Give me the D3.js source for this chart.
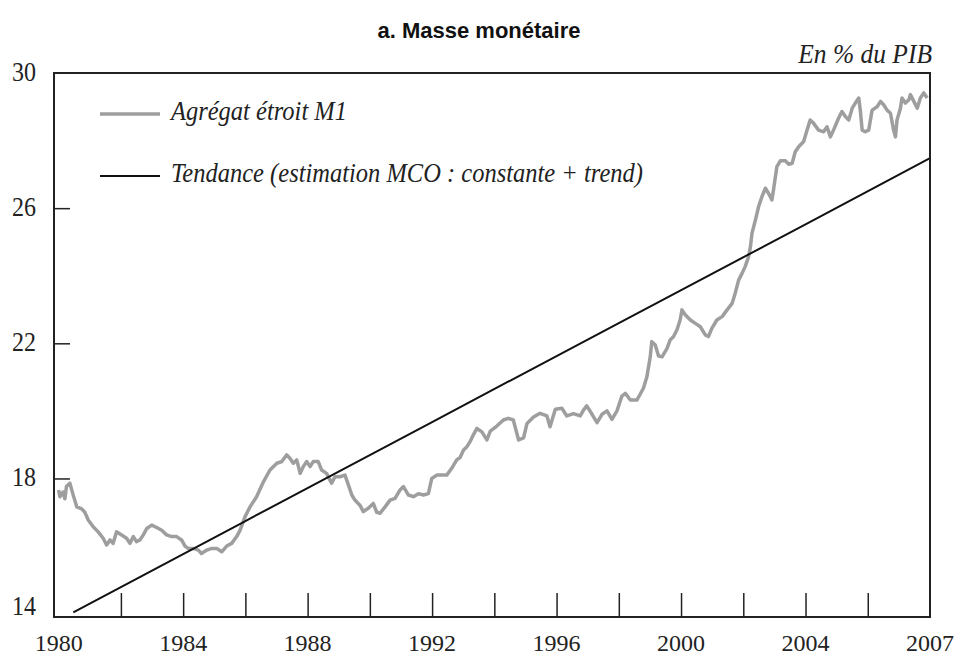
<!DOCTYPE html>
<html>
<head>
<meta charset="utf-8">
<script src="https://cdn.jsdelivr.net/npm/d3@7"></script>
<style>
  body { margin: 0; background: #fff; }
  svg { display: block; }
</style>
</head>
<body>
<svg id="chart"></svg>
<script>
// Agrégat étroit M1, en % du PIB
const m1Dates = [
  1980.00, 1980.04, 1980.14, 1980.20, 1980.25, 1980.36, 1980.47, 1980.58, 1980.74, 1980.84,
  1980.95, 1981.11, 1981.27, 1981.43, 1981.54, 1981.65, 1981.75, 1981.86, 1982.02, 1982.18,
  1982.29, 1982.40, 1982.50, 1982.61, 1982.72, 1982.83, 1982.99, 1983.15, 1983.31, 1983.47,
  1983.63, 1983.79, 1983.95, 1984.06, 1984.16, 1984.32, 1984.49, 1984.59, 1984.76, 1984.92,
  1985.08, 1985.24, 1985.40, 1985.56, 1985.72, 1985.83, 1985.99, 1986.15, 1986.36, 1986.58,
  1986.79, 1987.01, 1987.17, 1987.33, 1987.43, 1987.54, 1987.65, 1987.76, 1987.86, 1987.97,
  1988.08, 1988.18, 1988.34, 1988.45, 1988.61, 1988.77, 1988.88, 1989.04, 1989.20, 1989.31,
  1989.42, 1989.52, 1989.68, 1989.79, 1989.95, 1990.11, 1990.22, 1990.33, 1990.49, 1990.65,
  1990.81, 1990.97, 1991.08, 1991.24, 1991.40, 1991.56, 1991.72, 1991.88, 1991.99, 1992.15,
  1992.31, 1992.47, 1992.63, 1992.79, 1992.90, 1993.01, 1993.12, 1993.22, 1993.33, 1993.44,
  1993.60, 1993.76, 1993.87, 1994.08, 1994.29, 1994.45, 1994.61, 1994.78, 1994.94, 1995.05,
  1995.26, 1995.47, 1995.69, 1995.79, 1995.96, 1996.17, 1996.33, 1996.54, 1996.76, 1996.87,
  1996.97, 1997.14, 1997.30, 1997.46, 1997.62, 1997.78, 1997.94, 1998.10, 1998.21, 1998.37,
  1998.58, 1998.69, 1998.79, 1998.90, 1999.01, 1999.06, 1999.17, 1999.28, 1999.39, 1999.55,
  1999.65, 1999.76, 1999.87, 1999.97, 2000.03, 2000.14, 2000.30, 2000.46, 2000.62, 2000.78,
  2000.88, 2000.99, 2001.15, 2001.32, 2001.48, 2001.64, 2001.74, 2001.85, 2001.96, 2002.06,
  2002.17, 2002.23, 2002.28, 2002.39, 2002.49, 2002.60, 2002.71, 2002.81, 2002.92, 2002.97,
  2003.08, 2003.19, 2003.35, 2003.46, 2003.57, 2003.67, 2003.78, 2003.94, 2004.05, 2004.15,
  2004.26, 2004.42, 2004.58, 2004.69, 2004.80, 2004.90, 2005.06, 2005.17, 2005.28, 2005.39,
  2005.50, 2005.60, 2005.71, 2005.76, 2005.82, 2005.92, 2006.03, 2006.14, 2006.30, 2006.41,
  2006.51, 2006.62, 2006.73, 2006.83, 2006.89, 2006.94, 2007.05, 2007.10, 2007.21, 2007.32,
  2007.37, 2007.48, 2007.59, 2007.69, 2007.80, 2007.91
];
const m1Values = [
  17.66, 17.46, 17.60, 17.40, 17.76, 17.86, 17.50, 17.16, 17.10, 17.00,
  16.77, 16.57, 16.42, 16.23, 16.03, 16.18, 16.08, 16.42, 16.33, 16.23,
  16.08, 16.28, 16.13, 16.18, 16.33, 16.52, 16.62, 16.55, 16.47, 16.33,
  16.28, 16.28, 16.18, 16.00, 15.93, 15.93, 15.88, 15.78, 15.88, 15.93,
  15.93, 15.83, 16.00, 16.08, 16.28, 16.47, 16.87, 17.16, 17.46, 17.90,
  18.25, 18.45, 18.50, 18.70, 18.60, 18.45, 18.55, 18.15, 18.35, 18.50,
  18.35, 18.50, 18.50, 18.25, 18.15, 17.86, 18.05, 18.05, 18.10, 17.81,
  17.51, 17.36, 17.21, 17.02, 17.12, 17.26, 17.00, 16.97, 17.16, 17.36,
  17.41, 17.66, 17.76, 17.51, 17.46, 17.55, 17.51, 17.55, 18.00, 18.10,
  18.10, 18.10, 18.30, 18.55, 18.62, 18.84, 18.94, 19.09, 19.30, 19.48,
  19.38, 19.14, 19.40, 19.55, 19.73, 19.78, 19.73, 19.14, 19.20, 19.63,
  19.82, 19.93, 19.85, 19.53, 20.05, 20.08, 19.85, 19.92, 19.85, 20.03,
  20.15, 19.90, 19.65, 19.90, 20.00, 19.75, 20.00, 20.44, 20.52, 20.32,
  20.32, 20.50, 20.67, 21.00, 21.60, 22.05, 21.95, 21.62, 21.60, 21.85,
  22.10, 22.20, 22.40, 22.69, 22.99, 22.84, 22.69, 22.59, 22.49, 22.25,
  22.20, 22.44, 22.69, 22.79, 22.99, 23.18, 23.48, 23.87, 24.07, 24.27,
  24.56, 24.86, 25.26, 25.65, 26.04, 26.34, 26.59, 26.44, 26.24, 26.54,
  27.23, 27.40, 27.40, 27.30, 27.33, 27.67, 27.82, 27.97, 28.31, 28.61,
  28.51, 28.31, 28.26, 28.41, 28.11, 28.31, 28.66, 28.86, 28.71, 28.61,
  28.96, 29.11, 29.26, 28.90, 28.31, 28.26, 28.31, 28.90, 29.00, 29.16,
  29.06, 28.90, 28.81, 28.31, 28.11, 28.61, 28.96, 29.26, 29.11, 29.21,
  29.36, 29.16, 28.96, 29.26, 29.41, 29.26
];

// Tendance (estimation MCO : constante + trend)
const trendDates = [1980.47, 1986.0, 1992.0, 1998.0, 2004.0, 2008.0];
const trendValues = [14.04, 16.74, 19.67, 22.60, 25.52, 27.48];

const xTickYears = [1982, 1984, 1986, 1988, 1990, 1992, 1994, 1996, 1998, 2000, 2002, 2004, 2006];
const xLabelYears = [1980, 1984, 1988, 1992, 1996, 2000, 2004, 2008];
const xLabelTexts = ["1980", "1984", "1988", "1992", "1996", "2000", "2004", "2007"];
const yTicks = [14, 18, 22, 26, 30];

const W = 958, H = 659;
const margin = { top: 73, right: 28, bottom: 42, left: 54 };
const innerW = W - margin.left - margin.right;
const innerH = H - margin.top - margin.bottom;

const svg = d3.select("#chart")
  .attr("width", W)
  .attr("height", H);

const x = d3.scaleLinear().domain([1979.85, 2008]).range([margin.left, margin.left + innerW]);
const y = d3.scaleLinear().domain([13.9, 30]).range([margin.top + innerH, margin.top]);

const serif = "'Liberation Serif', 'Times New Roman', serif";
const stretch = 1.1; // le texte de la figure d'origine est un peu étiré en hauteur

// titre
svg.append("text")
  .attr("x", 479)
  .attr("y", 38)
  .attr("text-anchor", "middle")
  .attr("font-family", "'Liberation Sans', Arial, sans-serif")
  .attr("font-weight", "bold")
  .attr("font-size", 22)
  .attr("fill", "#111")
  .text("a. Masse monétaire");

svg.append("text")
  .attr("transform", "translate(932,63) scale(1," + stretch + ")")
  .attr("text-anchor", "end")
  .attr("font-family", serif)
  .attr("font-style", "italic")
  .attr("font-size", 25.5)
  .attr("fill", "#222")
  .text("En % du PIB");

// séries
const line = d3.line()
  .x(d => x(d[0]))
  .y(d => y(d[1]));

svg.append("path")
  .datum(m1Dates.map((d, i) => [d, m1Values[i]]))
  .attr("d", line)
  .attr("fill", "none")
  .attr("stroke", "#9e9e9e")
  .attr("stroke-width", 3.5)
  .attr("stroke-linejoin", "round");

svg.append("path")
  .datum(trendDates.map((d, i) => [d, trendValues[i]]))
  .attr("d", line)
  .attr("fill", "none")
  .attr("stroke", "#111")
  .attr("stroke-width", 2);

// axes (ticks vers l'intérieur)
const xAxis = d3.axisBottom(x)
  .tickValues(xTickYears)
  .tickSize(-24)
  .tickFormat("");

svg.append("g")
  .attr("transform", "translate(0," + (margin.top + innerH) + ")")
  .call(xAxis)
  .call(g => g.select(".domain").remove())
  .call(g => g.selectAll(".tick line").attr("stroke", "#222").attr("stroke-width", 1.5));

const yAxis = d3.axisLeft(y)
  .tickValues([18, 22, 26])
  .tickSize(-16)
  .tickFormat("");

svg.append("g")
  .attr("transform", "translate(" + margin.left + ",0)")
  .call(yAxis)
  .call(g => g.select(".domain").remove())
  .call(g => g.selectAll(".tick line").attr("stroke", "#222").attr("stroke-width", 1.5));

// cadre
svg.append("rect")
  .attr("x", margin.left)
  .attr("y", margin.top)
  .attr("width", innerW)
  .attr("height", innerH)
  .attr("fill", "none")
  .attr("stroke", "#222")
  .attr("stroke-width", 2);

// libellés
svg.append("g")
  .selectAll("text")
  .data(yTicks)
  .join("text")
  .attr("transform", d => "translate(36," + (Math.min(y(d), y(14.2)) + 8) + ") scale(1," + stretch + ")")
  .attr("text-anchor", "end")
  .attr("font-family", serif)
  .attr("font-size", 24)
  .attr("fill", "#222")
  .text(d => d);

svg.append("g")
  .selectAll("text")
  .data(xLabelYears)
  .join("text")
  .attr("x", d => x(d))
  .attr("y", 651)
  .attr("text-anchor", "middle")
  .attr("font-family", serif)
  .attr("font-size", 24)
  .attr("fill", "#222")
  .text((d, i) => xLabelTexts[i]);

// légende
const legend = [
  { label: "Agrégat étroit M1", color: "#9e9e9e", width: 3.5, y: 114 },
  { label: "Tendance (estimation MCO : constante + trend)", color: "#111", width: 2, y: 176 }
];

const lg = svg.append("g");
legend.forEach(d => {
  lg.append("line")
    .attr("x1", 100).attr("x2", 160)
    .attr("y1", d.y).attr("y2", d.y)
    .attr("stroke", d.color)
    .attr("stroke-width", d.width);
  lg.append("text")
    .attr("transform", "translate(171," + (d.y + 6) + ") scale(1," + stretch + ")")
    .attr("font-family", serif)
    .attr("font-style", "italic")
    .attr("font-size", 24.5)
    .attr("fill", "#222")
    .text(d.label);
});
</script>
</body>
</html>
